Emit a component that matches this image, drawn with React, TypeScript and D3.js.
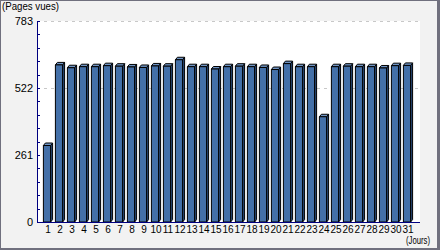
import React from "react";
import * as d3 from "d3";

const days = ["1","2","3","4","5","6","7","8","9","10","11","12","13","14","15","16","17","18","19","20","21","22","23","24","25","26","27","28","29","30","31"];
const pageViews = [298,612,601,605,605,609,607,604,602,608,607,632,605,605,596,605,607,605,602,594,617,605,605,410,605,607,605,605,600,609,610];
const yMax = 783;
const yLabels = [0, 261, 522, 783];
const gridValues = [522, 783];
const minorTickCount = 15;

const W = 440, H = 250;
const left = 37, right = 420, top = 21, bottom = 222;
const DX = 2, DY = 2.5;

export default function App() {
  const x = d3.scaleBand<string>().domain(days).range([41, 413]).paddingInner(0.4).paddingOuter(0.2);
  const y = d3.scaleLinear().domain([0, yMax]).range([bottom, top]);
  const minorTicks = d3.range(minorTickCount + 1).map((i) => (yMax * i) / minorTickCount);
  const bw = x.bandwidth();
  const font = "'Liberation Sans', Arial, sans-serif";

  return (
    <svg width={W} height={H} style={{ position: "fixed", left: 0, top: 0 }} xmlns="http://www.w3.org/2000/svg">
      <rect x={0} y={0} width={W} height={H} fill="#70707e" />
      <rect x={1} y={1} width={W - 4} height={H - 3} fill="#f2f2f2" />
      <rect x={left} y={top} width={right - left} height={bottom - top} fill="#ffffff" />
      {gridValues.map((v) => (
        <line key={v} x1={left} x2={right} y1={Math.round(y(v)) + 0.5} y2={Math.round(y(v)) + 0.5} stroke="#c8c8c8" strokeDasharray="3,4" />
      ))}
      {pageViews.map((v, i) => {
        const x0 = x(days[i])!;
        const y0 = y(v);
        const x1 = x0 + bw;
        return (
          <g key={i} stroke="#000" strokeWidth={1} strokeLinejoin="round">
            <polygon points={`${x1},${y0} ${x1 + DX},${y0 - DY} ${x1 + DX},${bottom - DY} ${x1},${bottom}`} fill="#2c4f80" />
            <polygon points={`${x0},${y0} ${x0 + DX},${y0 - DY} ${x1 + DX},${y0 - DY} ${x1},${y0}`} fill="#6f94c4" />
            <rect x={x0} y={y0} width={bw} height={bottom - y0} fill="#4470a8" />
          </g>
        );
      })}
      <line x1={left + 0.5} x2={left + 0.5} y1={top} y2={bottom} stroke="#000080" />
      <line x1={left} x2={right} y1={bottom + 0.5} y2={bottom + 0.5} stroke="#000080" />
      {minorTicks.map((v, i) => (
        <line key={i} x1={left} x2={left + 3} y1={Math.round(y(v)) + 0.5} y2={Math.round(y(v)) + 0.5} stroke="#000080" />
      ))}
      {yLabels.map((v) => (
        <text key={v} x={33} y={y(v) + 4} textAnchor="end" fontFamily={font} fontSize={11} fill="#000">{v}</text>
      ))}
      {days.map((d) => (
        <text key={d} x={x(d)! + bw / 2 + 1} y={233} textAnchor="middle" fontFamily={font} fontSize={10} fill="#000">{d}</text>
      ))}
      <text x={2} y={10} fontFamily={font} fontSize={10} fill="#000" textLength={57} lengthAdjust="spacingAndGlyphs">(Pages vues)</text>
      <text x={406} y={243.5} fontFamily={font} fontSize={10} fill="#000" textLength={24} lengthAdjust="spacingAndGlyphs">(Jours)</text>
    </svg>
  );
}
